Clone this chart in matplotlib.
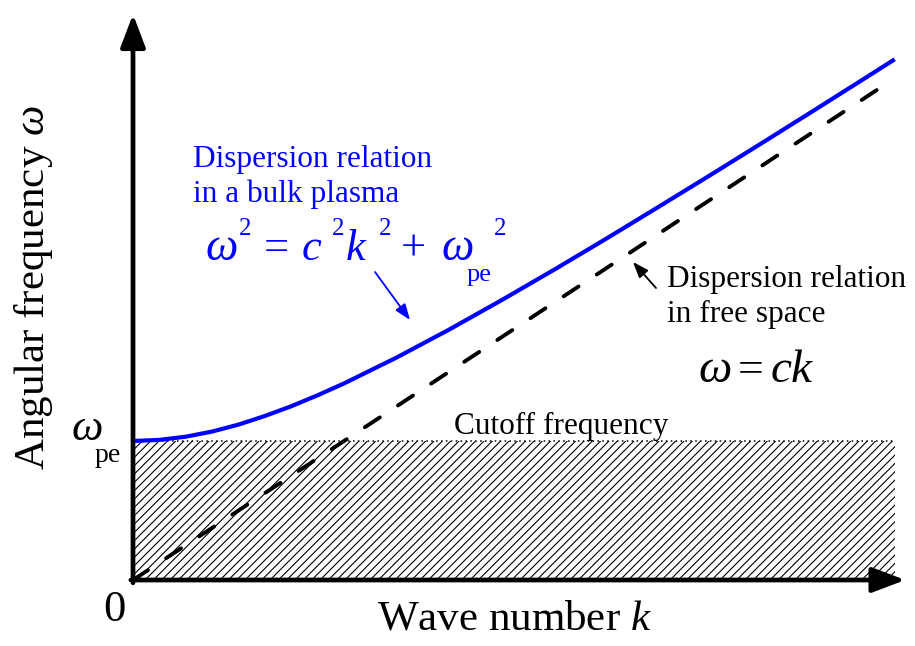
import matplotlib.pyplot as plt

plt.rcParams['font.family'] = ['Liberation Serif', 'DejaVu Serif']
plt.rcParams['mathtext.fontset'] = 'custom'
plt.rcParams['mathtext.rm'] = 'Liberation Serif'
plt.rcParams['mathtext.it'] = 'Liberation Serif:italic'
plt.rcParams['hatch.linewidth'] = 0.8

# wave number k (units where c = 1) and angular frequency
k_plasma = [0, 0.125, 0.25, 0.375, 0.5, 0.625, 0.75, 0.875, 1.0, 1.25, 1.5,
            1.75, 2.0, 2.25, 2.5, 2.75, 3.0, 3.25, 3.5, 3.61]
omega_plasma = [1.000, 1.008, 1.031, 1.068, 1.118, 1.180, 1.250, 1.329, 1.414,
                1.601, 1.803, 2.016, 2.236, 2.462, 2.693, 2.926, 3.162, 3.400,
                3.640, 3.746]
k_free = [0, 3.61]
omega_free = [0, 3.61]
omega_pe = 1.0
k_max = 3.61

W, H = 915, 646
fig = plt.figure(figsize=(W / 100, H / 100), dpi=100)
ax = fig.add_axes([0, 0, 1, 1])
ax.set_xlim(-133 / 211, (W - 133) / 211)
ax.set_ylim(-(H - 580) / 139, 580 / 139)
ax.axis('off')


def px(x, y):
    # figure pixel position -> figure fraction
    return x / W, 1 - y / H


def data(x, y):
    # figure pixel position -> data coordinates
    return (x - 133) / 211, (580 - y) / 139


# cutoff region
ax.fill_between([0, k_max], 0, omega_pe, facecolor='none', edgecolor='k',
                hatch='////', linewidth=0)
ax.plot([0, k_max], [omega_pe, omega_pe], color='k', lw=1.1, ls=(0, (1, 2.2)))

# dispersion curves
ax.plot(k_free, omega_free, color='k', lw=2.8, ls=(0, (4.6, 5.6)),
        dash_capstyle='round')
ax.plot(k_plasma, omega_plasma, color='#0000ff', lw=3.0, solid_capstyle='butt')

# axes with arrow heads
arrow = dict(arrowstyle='-|>,head_length=1.0,head_width=0.38', lw=3.4,
             color='k', mutation_scale=20, shrinkA=0, shrinkB=0)
ax.annotate('', xy=(0, 4.07), xytext=(0, -0.02), arrowprops=arrow)
ax.annotate('', xy=(3.66, 0), xytext=(-0.01, 0), arrowprops=arrow)

# axis labels
fig.text(*px(514, 630), 'Wave number $k$', fontsize=31, ha='center', va='baseline')
fig.text(*px(34, 288), r'Angular frequency $\omega$', fontsize=31, rotation=90,
         ha='center', va='center')
fig.text(*px(114, 621), '0', fontsize=32, ha='center', va='baseline')
fig.text(*px(72, 440), 'ω', fontsize=32, style='italic', ha='left', va='baseline')
fig.text(*px(95, 462), 'pe', fontsize=20, ha='left', va='baseline')
fig.text(*px(561, 434), 'Cutoff frequency', fontsize=22.5, ha='center', va='baseline')

# plasma dispersion annotation
blue = '#0000ff'
fig.text(*px(193, 167), 'Dispersion relation', fontsize=22.5, color=blue, va='baseline')
fig.text(*px(193, 202), 'in a bulk plasma', fontsize=22.5, color=blue, va='baseline')
eq_parts = [
    (205, 260, 'ω', 33, 'italic'), (239, 235, '2', 18, 'normal'),
    (264, 260, '=', 32, 'normal'), (302, 260, 'c', 32, 'italic'),
    (332, 235, '2', 18, 'normal'), (346, 260, 'k', 32, 'italic'),
    (379, 235, '2', 18, 'normal'), (401, 260, '+', 32, 'normal'),
    (441, 260, 'ω', 33, 'italic'), (467, 281, 'pe', 19, 'normal'),
    (494, 235, '2', 18, 'normal'),
]
for x, y, s, size, st in eq_parts:
    fig.text(*px(x, y), s, fontsize=size, style=st, color=blue, va='baseline')
ax.annotate('', xy=data(410, 320), xytext=data(375, 272),
            arrowprops=dict(arrowstyle='-|>,head_length=0.8,head_width=0.3',
                            lw=1.3, color=blue, mutation_scale=12,
                            shrinkA=0, shrinkB=0))

# free-space dispersion annotation
fig.text(*px(667, 287), 'Dispersion relation', fontsize=22.5, va='baseline')
fig.text(*px(667, 322), 'in free space', fontsize=22.5, va='baseline')
fig.text(*px(698, 382), 'ω', fontsize=34, style='italic', va='baseline')
fig.text(*px(738, 382), '=', fontsize=33, va='baseline')
fig.text(*px(771, 382), 'ck', fontsize=34, style='italic', va='baseline')
ax.annotate('', xy=data(633, 262), xytext=data(656, 288),
            arrowprops=dict(arrowstyle='-|>,head_length=0.8,head_width=0.3',
                            lw=1.3, color='k', mutation_scale=12,
                            shrinkA=0, shrinkB=0))

fig.savefig('out.png', dpi=100)
